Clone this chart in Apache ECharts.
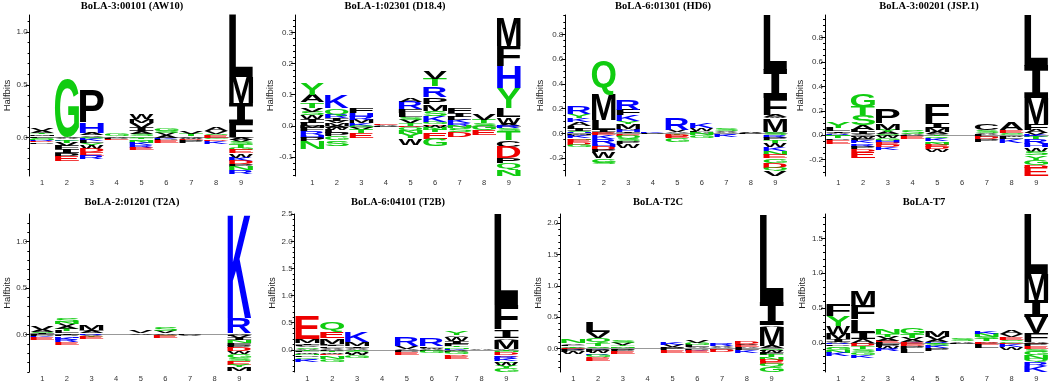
<!DOCTYPE html>
<html>
<head>
<meta charset="utf-8">
<script src="https://cdn.jsdelivr.net/npm/echarts@6/dist/echarts.min.js"></script>
<style>
  html, body { margin: 0; padding: 0; background: #fff; }
  #chart { width: 1050px; height: 383px; }
</style>
</head>
<body>
<div id="chart"></div>
<script>
// ========== Data: sequence logos, halfbits per residue ==========
// positive stacks are listed from 0 upwards, negative stacks from 0 downwards

const posLabels = ['1', '2', '3', '4', '5', '6', '7', '8', '9'];
const panelTitles = ['BoLA-3:00101 (AW10)', 'BoLA-1:02301 (D18.4)', 'BoLA-6:01301 (HD6)', 'BoLA-3:00201 (JSP.1)',
                     'BoLA-2:01201 (T2A)', 'BoLA-6:04101 (T2B)', 'BoLA-T2C', 'BoLA-T7'];

const aw10Up = [
  [['L', .015], ['M', .015], ['T', .015], ['A', .02], ['V', .025]],
  [['A', .005], ['G', .549]],
  [['S', .01], ['V', .012], ['A', .022], ['H', .1], ['P', .305]],
  [['A', .01], ['G', .02]],
  [['G', .015], ['S', .02], ['A', .025], ['I', .03], ['V', .045], ['M', .04], ['W', .053]],
  [['A', .02], ['V', .02], ['S', .025], ['G', .027]],
  [['A', .015], ['T', .02], ['V', .025]],
  [['E', .02], ['S', .015], ['V', .025], ['A', .03]],
  [['V', .006], ['F', .134], ['I', .183], ['M', .25], ['L', .588]]
];
const aw10Down = [
  [['S', .01], ['N', .01], ['R', .01], ['D', .012], ['P', .015]],
  [['A', .015], ['K', .015], ['T', .02], ['V', .03], ['F', .03], ['I', .035], ['P', .035], ['E', .045]],
  [['G', .015], ['K', .02], ['L', .02], ['Y', .025], ['W', .03], ['D', .03], ['E', .03], ['R', .035]],
  [['P', .01], ['E', .015]],
  [['T', .015], ['Q', .02], ['N', .02], ['K', .02], ['R', .02], ['E', .025]],
  [['K', .01], ['P', .015], ['E', .025]],
  [['W', .012], ['D', .015], ['P', .02]],
  [['G', .015], ['D', .015], ['K', .027]],
  [['A', .02], ['V', .025], ['S', .02], ['T', .03], ['G', .025], ['E', .03], ['W', .04], ['K', .03], ['D', .03], ['P', .025], ['N', .035], ['R', .034]]
];

const d18Up = [
  [['L', .01], ['I', .012], ['W', .012], ['S', .012], ['V', .012], ['T', .018], ['A', .023], ['Y', .036]],
  [['M', .008], ['V', .008], ['I', .008], ['R', .01], ['Q', .022], ['K', .043]],
  [['K', .008], ['M', .01], ['R', .01], ['H', .012], ['F', .018]],
  [['A', .003], ['E', .003]],
  [['T', .008], ['V', .01], ['S', .01], ['L', .013], ['F', .012], ['R', .025], ['A', .012]],
  [['D', .005], ['G', .008], ['K', .02], ['S', .016], ['M', .022], ['P', .022], ['R', .034], ['T', .025], ['V', .024]],
  [['R', .008], ['K', .01], ['L', .01], ['I', .012], ['F', .016]],
  [['S', .008], ['T', .012], ['V', .02]],
  [['A', .007], ['W', .02], ['L', .029], ['Y', .064], ['H', .07], ['F', .065], ['M', .093]]
];
const d18Down = [
  [['M', .008], ['F', .01], ['R', .012], ['H', .008], ['P', .012], ['N', .025]],
  [['A', .006], ['W', .008], ['L', .01], ['P', .01], ['G', .012], ['S', .018]],
  [['G', .006], ['V', .008], ['T', .01], ['E', .016]],
  [['P', .003]],
  [['D', .005], ['Q', .01], ['N', .01], ['Y', .014], ['W', .021]],
  [['W', .006], ['N', .006], ['T', .008], ['E', .021], ['G', .023]],
  [['N', .007], ['S', .012], ['D', .016]],
  [['G', .015], ['E', .015]],
  [['R', .007], ['S', .01], ['T', .028], ['C', .022], ['D', .037], ['P', .017], ['Q', .02], ['N', .02]]
];

const hd6Up = [
  [['H', .012], ['S', .012], ['I', .015], ['L', .02], ['A', .035], ['K', .032], ['Y', .03], ['R', .059]],
  [['V', .012], ['I', .02], ['L', .077], ['M', .208], ['Q', .262]],
  [['I', .008], ['H', .02], ['A', .012], ['M', .04], ['Y', .018], ['K', .047], ['F', .048], ['R', .077]],
  [['K', .01]],
  [['A', .01], ['V', .017], ['R', .094]],
  [['A', .012], ['L', .01], ['W', .02], ['K', .044]],
  [['A', .01], ['V', .012], ['S', .018]],
  [['A', .006], ['V', .007]],
  [['V', .013], ['M', .108], ['W', .01], ['A', .017], ['F', .135], ['I', .229], ['L', .444]]
];
const hd6Down = [
  [['M', .01], ['F', .012], ['K', .015], ['N', .012], ['E', .022], ['D', .022], ['G', .015]],
  [['E', .015], ['K', .03], ['R', .04], ['H', .02], ['D', .025], ['P', .02], ['W', .05], ['G', .035], ['S', .015]],
  [['E', .012], ['D', .01], ['Q', .02], ['S', .02], ['P', .025], ['W', .033]],
  [['P', .005]],
  [['T', .01], ['D', .015], ['E', .015], ['G', .027]],
  [['N', .015], ['G', .025]],
  [['R', .012], ['K', .015]],
  [['P', .005]],
  [['S', .015], ['R', .02], ['P', .02], ['T', .025], ['W', .03], ['K', .03], ['N', .03], ['E', .03], ['G', .035], ['D', .04], ['Q', .03], ['V', .04]]
];

const jspUp = [
  [['R', .01], ['A', .012], ['I', .01], ['L', .027], ['Y', .05]],
  [['V', .012], ['I', .015], ['L', .015], ['A', .04], ['S', .08], ['T', .07], ['G', .109]],
  [['S', .01], ['A', .015], ['Y', .02], ['M', .055], ['P', .118]],
  [['A', .008], ['S', .027]],
  [['V', .012], ['A', .015], ['M', .035], ['I', .04], ['F', .157]],
  [['A', .002]],
  [['A', .01], ['V', .012], ['S', .019], ['C', .055]],
  [['G', .01], ['S', .01], ['E', .021], ['A', .06]],
  [['V', .015], ['A', .026], ['F', .055], ['M', .21], ['I', .26], ['L', .417]]
];
const jspDown = [
  [['N', .01], ['T', .015], ['P', .01], ['E', .033]],
  [['M', .012], ['W', .015], ['F', .02], ['K', .02], ['R', .025], ['P', .02], ['D', .025], ['E', .046]],
  [['T', .01], ['W', .015], ['G', .02], ['H', .015], ['E', .02], ['D', .018], ['K', .025]],
  [['P', .01], ['E', .017]],
  [['T', .01], ['Q', .015], ['K', .025], ['S', .015], ['N', .015], ['E', .02], ['D', .015], ['W', .022]],
  [],
  [['L', .015], ['D', .015], ['P', .025]],
  [['W', .013], ['L', .02], ['K', .03]],
  [['K', .015], ['T', .015], ['R', .04], ['H', .03], ['W', .035], ['S', .03], ['Y', .035], ['G', .045], ['D', .02], ['E', .068]]
];

const t2aUp = [
  [['L', .01], ['I', .012], ['S', .011], ['A', .02], ['V', .035]],
  [['I', .015], ['L', .02], ['T', .025], ['A', .03], ['V', .025], ['N', .025], ['S', .042]],
  [['R', .015], ['A', .02], ['I', .012], ['M', .048]],
  [],
  [['A', .015], ['V', .02]],
  [['A', .015], ['V', .02], ['S', .042]],
  [['A', .005]],
  [],
  [['A', .018], ['R', .157], ['K', 1.113]]
];
const t2aDown = [
  [['P', .015], ['K', .013], ['E', .025]],
  [['P', .015], ['H', .015], ['K', .025], ['R', .02], ['E', .03]],
  [['V', .01], ['T', .012], ['E', .024]],
  [],
  [['G', .005]],
  [['G', .01], ['E', .025]],
  [['P', .008], ['V', .01]],
  [],
  [['L', .015], ['V', .02], ['I', .025], ['N', .03], ['F', .03], ['P', .025], ['D', .035], ['W', .03], ['G', .04], ['S', .03], ['E', .04], ['Y', .03], ['M', .036]]
];

const t2bUp = [
  [['A', .02], ['S', .025], ['V', .025], ['F', .02], ['I', .03], ['M', .07], ['E', .42]],
  [['A', .02], ['V', .02], ['L', .025], ['I', .02], ['F', .03], ['M', .1], ['E', .115], ['Q', .19]],
  [['A', .015], ['V', .025], ['I', .03], ['M', .07], ['K', .2]],
  [],
  [['A', .02], ['V', .045], ['R', .153]],
  [['A', .02], ['W', .02], ['L', .03], ['R', .15]],
  [['K', .02], ['N', .025], ['T', .03], ['F', .04], ['I', .04], ['W', .08], ['V', .03], ['Y', .075]],
  [['A', .01]],
  [['A', .018], ['M', .17], ['V', .03], ['I', .152], ['F', .454], ['L', 1.68]]
];
const t2bDown = [
  [['T', .02], ['L', .025], ['W', .03], ['N', .03], ['P', .03], ['G', .03], ['R', .025], ['K', .034]],
  [['P', .02], ['T', .025], ['W', .03], ['D', .03], ['H', .03], ['N', .035], ['G', .054]],
  [['T', .02], ['S', .025], ['P', .025], ['W', .035], ['G', .04]],
  [],
  [['L', .02], ['P', .03], ['E', .05]],
  [['P', .02], ['G', .047]],
  [['A', .02], ['P', .025], ['G', .04], ['D', .03], ['E', .05]],
  [],
  [['T', .02], ['N', .03], ['D', .045], ['E', .03], ['R', .04], ['K', .05], ['S', .03], ['W', .06], ['Y', .04], ['G', .061]]
];

const t2cUp = [
  [['A', .015], ['T', .02], ['L', .02], ['V', .025], ['N', .07]],
  [['A', .012], ['S', .025], ['T', .04], ['Q', .09], ['V', .1], ['L', .165]],
  [['A', .015], ['N', .02], ['T', .02], ['V', .035], ['S', .04]],
  [],
  [['A', .02], ['V', .03], ['K', .039]],
  [['A', .02], ['L', .03], ['G', .035], ['V', .045]],
  [['A', .02], ['V', .02], ['R', .033]],
  [['A', .02], ['E', .03], ['V', .02], ['D', .034]],
  [['A', .037], ['M', .31], ['V', .025], ['I', .374], ['L', 1.39]]
];
const t2cDown = [
  [['E', .012], ['R', .015], ['P', .03], ['W', .037]],
  [['K', .02], ['P', .03], ['W', .03], ['R', .02], ['G', .04], ['D', .02], ['E', .04]],
  [['L', .02], ['P', .034], ['E', .04]],
  [],
  [['P', .03], ['E', .038]],
  [['P', .02], ['K', .02], ['E', .038]],
  [['P', .02], ['D', .037]],
  [['L', .03], ['K', .048]],
  [['S', .02], ['P', .025], ['W', .03], ['F', .035], ['T', .03], ['N', .04], ['D', .035], ['E', .035], ['Q', .04], ['G', .08]]
];

const t7Up = [
  [['A', .015], ['I', .032], ['M', .085], ['W', .113], ['Y', .14], ['F', .157]],
  [['A', .047], ['I', .095], ['L', .19], ['F', .2], ['M', .213]],
  [['E', .03], ['A', .03], ['V', .03], ['T', .04], ['N', .082]],
  [['K', .015], ['A', .03], ['V', .03], ['T', .05], ['G', .1]],
  [['R', .015], ['A', .03], ['V', .045], ['M', .1]],
  [['A', .02], ['S', .037]],
  [['A', .02], ['T', .03], ['S', .03], ['N', .045], ['K', .04]],
  [['G', .02], ['S', .02], ['E', .04], ['V', .04], ['A', .06]],
  [['A', .014], ['F', .127], ['V', .236], ['I', .236], ['M', .38], ['L', .857]]
];
const t7Down = [
  [['R', .02], ['P', .025], ['S', .025], ['G', .03], ['N', .04], ['K', .05]],
  [['P', .02], ['D', .03], ['T', .035], ['S', .045], ['G', .04], ['K', .042]],
  [['L', .03], ['P', .03], ['W', .03], ['R', .028]],
  [['E', .03], ['D', .02], ['P', .04], ['L', .052]],
  [['T', .02], ['S', .03], ['K', .03], ['P', .038]],
  [['P', .024]],
  [['E', .03], ['L', .05]],
  [['D', .02], ['K', .04], ['W', .044]],
  [['D', .02], ['P', .03], ['E', .04], ['S', .04], ['G', .05], ['N', .05], ['Q', .05], ['R', .05], ['K', .085]]
];

const logoUp = [aw10Up, d18Up, hd6Up, jspUp, t2aUp, t2bUp, t2cUp, t7Up];
const logoDown = [aw10Down, d18Down, hd6Down, jspDown, t2aDown, t2bDown, t2cDown, t7Down];

// y ranges of each panel: [min, max, label step]
const yRanges = [[-0.364, 1.161, 0.5], [-0.161, 0.356, 0.1], [-0.343, 0.956, 0.2], [-0.333, 0.983, 0.2],
                 [-0.40, 1.295, 0.5], [-0.41, 2.505, 0.5], [-0.376, 2.147, 0.5], [-0.42, 1.85, 0.5]];

// ========== Layout (pixels) ==========
const layout = [
  { left: 29.6, width: 223.9, top: 15, offset: 0, gap: 13, tx: 132, ty: 1 },
  { left: 300, width: 221, top: 15, offset: 5, gap: 17, tx: 395, ty: 1 },
  { left: 567, width: 220.5, top: 15, offset: 1.7, gap: 12.5, tx: 663, ty: 1 },
  { left: 825.9, width: 222.7, top: 15, offset: 0.9, gap: 19, tx: 929, ty: 1 },
  { left: 30, width: 221.6, top: 214, offset: 0.7, gap: 12.5, tx: 132, ty: 197 },
  { left: 294.9, width: 223.9, top: 214, offset: 0.2, gap: 15, tx: 398, ty: 197 },
  { left: 560.9, width: 223.2, top: 214, offset: 0.6, gap: 16, tx: 658, ty: 197 },
  { left: 825.9, width: 222.7, top: 214, offset: 0.9, gap: 17.5, tx: 924, ty: 197 }
];

// ========== Letter drawing helpers ==========
const GREEN = 'GSTYQN', BLUE = 'KRH', RED = 'DE';
function colorOf(ch) {
  if (GREEN.includes(ch)) return '#10cc10';
  if (BLUE.includes(ch)) return '#0000ff';
  if (RED.includes(ch)) return '#ee0000';
  return '#000000';
}
function fontOf(ch) {
  // serif-style I like the original logo font
  return ch === 'I' ? 'bold 100px "DejaVu Sans Mono"' : 'bold 100px "Liberation Sans"';
}
const measureCtx = document.createElement('canvas').getContext('2d');
const glyphCache = {};
function glyph(ch) {
  if (!glyphCache[ch]) {
    measureCtx.font = fontOf(ch);
    measureCtx.textAlign = 'left';
    measureCtx.textBaseline = 'middle';
    const m = measureCtx.measureText(ch);
    glyphCache[ch] = { l: m.actualBoundingBoxLeft, r: m.actualBoundingBoxRight,
                       a: m.actualBoundingBoxAscent, d: m.actualBoundingBoxDescent };
  }
  return glyphCache[ch];
}

function buildCells(up, down) {
  const cells = [];
  up.forEach((stack, i) => {
    let y = 0;
    stack.forEach(([ch, h]) => { cells.push({ x: i, y0: y, y1: y + h, ch }); y += h; });
  });
  down.forEach((stack, i) => {
    let y = 0;
    stack.forEach(([ch, h]) => { cells.push({ x: i, y0: y - h, y1: y, ch }); y -= h; });
  });
  return cells;
}

function makeRender(cells) {
  return function (params, api) {
    const c = cells[params.dataIndex];
    const top = api.coord([c.x, c.y1]);
    const bot = api.coord([c.x, c.y0]);
    const bw = api.size([1, 0])[0] * 0.97;
    const bh = bot[1] - top[1];
    if (bh < 0.2) return null;
    const g = glyph(c.ch);
    const sx = bw / (g.l + g.r), sy = bh / (g.a + g.d);
    return {
      type: 'text',
      x: top[0] - bw / 2 + g.l * sx,
      y: top[1] + g.a * sy,
      scaleX: sx,
      scaleY: sy,
      style: { text: c.ch, font: fontOf(c.ch), fill: colorOf(c.ch), align: 'left', verticalAlign: 'middle' }
    };
  };
}

function tickValues(min, max, step) {
  const out = [];
  for (let k = Math.ceil(min / step - 1e-9); k * step <= max + 1e-9; k++) out.push(+(k * step).toFixed(4));
  return out;
}

// ========== Build options ==========
const grids = [], xAxes = [], yAxes = [], series = [], titles = [];
layout.forEach((p, i) => {
  const [ymin, ymax, step] = yRanges[i];
  const minorStep = step === 0.2 ? 0.05 : step / 5;
  grids.push({ left: p.left, top: p.top, width: p.width, height: 161 });
  titles.push({
    text: panelTitles[i], left: p.tx, top: p.ty, textAlign: 'center', padding: 0,
    textStyle: { fontFamily: 'Liberation Serif', fontWeight: 'bold', fontSize: 10.5, color: '#000' }
  });
  xAxes.push({
    type: 'category', gridIndex: i, data: posLabels,
    axisLine: { show: false }, axisTick: { show: false },
    axisLabel: { fontSize: 7.5, color: '#333', margin: 3, fontFamily: 'Liberation Sans' }
  });
  // major ticks and labels
  yAxes.push({
    type: 'value', gridIndex: i, min: ymin, max: ymax, position: 'left', offset: p.offset,
    name: 'Halfbits', nameLocation: 'middle', nameGap: p.gap,
    nameTextStyle: { fontSize: 9.5, color: '#222', fontFamily: 'Liberation Sans' },
    axisLine: { show: true, lineStyle: { color: '#000', width: 1 } },
    axisTick: { show: true, length: 4, customValues: tickValues(ymin, ymax, step), lineStyle: { color: '#000' } },
    axisLabel: {
      customValues: tickValues(ymin, ymax, step), fontSize: 8, color: '#333', margin: 2,
      fontFamily: 'Liberation Sans', formatter: v => v.toFixed(1)
    },
    splitLine: { show: false }
  });
  // minor ticks
  yAxes.push({
    type: 'value', gridIndex: i, min: ymin, max: ymax, position: 'left', offset: p.offset,
    axisLine: { show: false },
    axisTick: { show: true, length: 2, customValues: tickValues(ymin, ymax, minorStep), lineStyle: { color: '#000' } },
    axisLabel: { show: false },
    splitLine: { show: false }
  });
  const cells = buildCells(logoUp[i], logoDown[i]);
  series.push({
    type: 'custom', xAxisIndex: i, yAxisIndex: 2 * i, clip: false, silent: true,
    data: cells.map(c => [c.x, c.y0, c.y1]),
    renderItem: makeRender(cells),
    markLine: {
      silent: true, symbol: 'none', label: { show: false }, z: 1,
      lineStyle: { color: '#999', width: 1, type: 'solid' },
      data: [{ yAxis: 0 }]
    }
  });
});

const myChart = echarts.init(document.getElementById('chart'));
myChart.setOption({
  animation: false,
  title: titles,
  grid: grids,
  xAxis: xAxes,
  yAxis: yAxes,
  series: series
});
</script>
</body>
</html>
